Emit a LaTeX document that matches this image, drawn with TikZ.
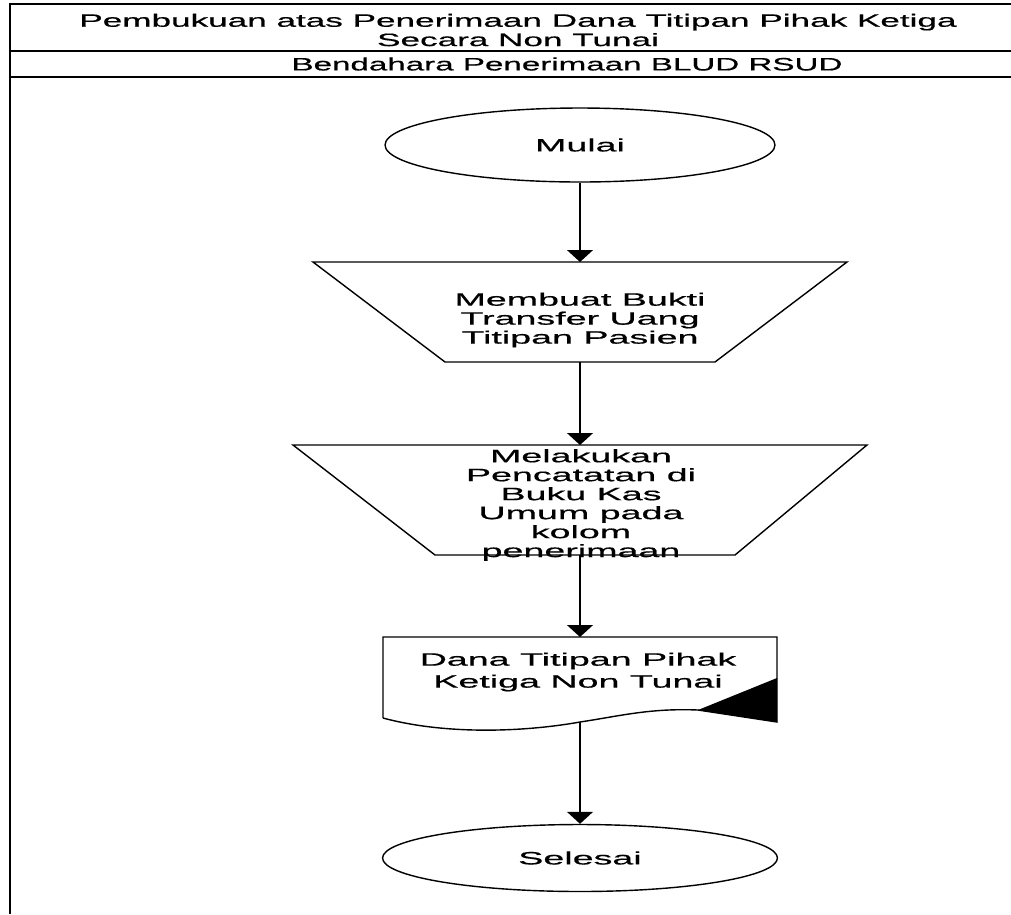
\documentclass[tikz,border=0pt]{standalone}
\usepackage{fontspec}
\setmainfont{Liberation Sans}[FakeStretch=2.1,FakeBold=0.6]
\newfontfamily\headfont{Liberation Sans}[FakeStretch=1.96,FakeBold=0.6]
\newfontfamily\subfont{Liberation Sans}[FakeStretch=1.85,FakeBold=0.6]
\usetikzlibrary{arrows.meta,shapes.geometric}

\begin{document}
\begin{tikzpicture}[x=0.02cm,y=-0.02cm,line width=0.8pt,
	txt/.style={align=center,inner sep=0pt,font=\fontsize{10.2}{10.8}\selectfont},
	term/.style={draw,ellipse,inner sep=0pt,font=\fontsize{10.2}{10.8}\selectfont},
	flow/.style={-{Triangle[width=14.7pt,length=6.8pt]}}]
	\useasboundingbox (0,0) rectangle (1011,914);
	\path
	(10,4) coordinate (TL)
	(1011,4) coordinate (TR)
	(10,51) coordinate (L1)
	(1011,51) coordinate (R1)
	(10,77) coordinate (L2)
	(1011,77) coordinate (R2)
	(10,914) coordinate (BL)
	(313,262) coordinate (P1) (847,262) coordinate (P2) (715,362) coordinate (P3) (445,362) coordinate (P4)
	(293,445) coordinate (Q1) (867,445) coordinate (Q2) (735,555) coordinate (Q3) (435,555) coordinate (Q4)
	(383,637) coordinate (D1) (777,637) coordinate (D2) (777,722) coordinate (D3) (698,710) coordinate (D4)
	(383,718) coordinate (D5) (777,678) coordinate (D6)
	(580,262) coordinate (in1) (580,362) coordinate (out1)
	(580,445) coordinate (in2) (580,555) coordinate (out2)
	(580,637) coordinate (in3) (580,722) coordinate (out3)
	;
	% frame
	\draw (BL)--(TL)--(TR) (L1)--(R1) (L2)--(R2);
	\node[txt,font=\headfont\fontsize{10.2}{11}\selectfont] (judul) at (518,30) {Pembukuan atas Penerimaan Dana Titipan Pihak Ketiga\\Secara Non Tunai};
	\node[txt,font=\subfont\fontsize{10.2}{11}\selectfont] (bagian) at (567,64) {Bendahara Penerimaan BLUD RSUD};
	% flow
	\node[term,minimum width=7.8cm,minimum height=1.48cm] (mulai) at (580,145) {Mulai};
	\draw (P1)--(P2)--(P3)--(P4)--cycle;
	\node[txt] (bukti) at (580,320) {Membuat Bukti\\Transfer Uang\\Titipan Pasien};
	\draw (Q1)--(Q2)--(Q3)--(Q4)--cycle;
	\node[txt] (catat) at (581,505) {Melakukan\\Pencatatan di\\Buku Kas\\Umum pada\\kolom\\penerimaan};
	\draw (D5)--(D1)--(D2)--(D3)--(D4) .. controls (650,708) and (620,716) .. (out3) .. controls (530,731) and (450,736) .. (D5);
	\fill (D4)--(D6)--(D3)--cycle;
	\node[txt,font=\fontsize{10.2}{12.5}\selectfont] (dana) at (578,672) {Dana Titipan Pihak\\Ketiga Non Tunai};
	\node[term,minimum width=7.9cm,minimum height=1.34cm] (selesai) at (580,858) {Selesai};
	\draw[flow] (mulai)--(in1);
	\draw[flow] (out1)--(in2);
	\draw[flow] (out2)--(in3);
	\draw[flow] (out3)--(selesai);
\end{tikzpicture}
\end{document}
